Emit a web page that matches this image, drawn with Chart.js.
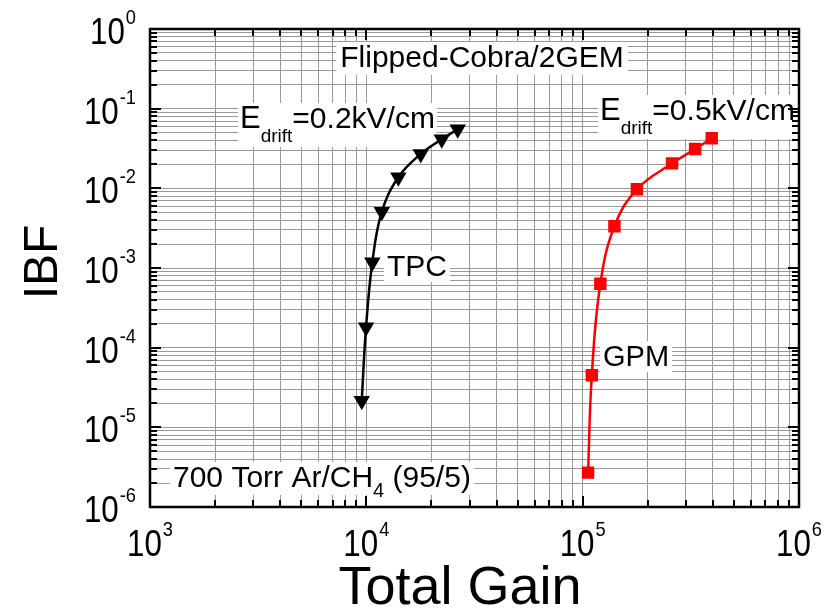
<!DOCTYPE html>
<html>
<head>
<meta charset="utf-8">
<script src="https://cdn.jsdelivr.net/npm/chart.js@4"></script>
<style>
  html, body { margin: 0; padding: 0; background: #ffffff; }
</style>
</head>
<body>
<canvas id="c" width="833" height="611"></canvas>
<script>
// Ion back-flow vs. total gain, Flipped-Cobra/2GEM
const tpcGain = [9520, 9970, 10660, 11790, 14060, 17840, 22320, 26460];
const tpcIBF  = [2.16e-5, 1.80e-4, 1.18e-3, 5.09e-3, 1.38e-2, 2.70e-2, 4.13e-2, 5.51e-2];
const gpmGain = [105900, 110200, 120700, 140200, 178000, 259000, 331000, 395000];
const gpmIBF  = [2.70e-6, 4.50e-5, 6.35e-4, 3.34e-3, 9.72e-3, 2.06e-2, 3.12e-2, 4.25e-2];

// decade exponents used for axis labels
const xTickExps = [3, 4, 5, 6];
const yTickExps = [0, -1, -2, -3, -4, -5, -6];

const FONT = '"Liberation Sans", Arial, sans-serif';

function points(xs, ys) { return xs.map((x, i) => ({ x: x, y: ys[i] })); }

// 1..9 x 10^n grid positions across the decades
function logTicks(exps) {
  const lo = Math.min(...exps), hi = Math.max(...exps);
  const out = [];
  for (let e = lo; e <= hi; e++) {
    const m = e === hi ? 1 : 9;
    for (let s = 1; s <= m; s++) out.push({ value: s * Math.pow(10, e), major: s === 1 });
  }
  return out;
}

// "10" with a raised exponent, drawn slightly condensed
function drawPow(ctx, exp, x, y, align) {
  const sx = 0.87;
  const big = '36px ' + FONT, small = '21px ' + FONT;
  ctx.font = big; const w1 = ctx.measureText('10').width * sx;
  ctx.font = small; const w2 = ctx.measureText(String(exp)).width * sx;
  const total = w1 + w2 + 1;
  const left = align === 'center' ? x - total / 2 : x - total;
  ctx.save();
  ctx.fillStyle = '#000';
  ctx.textAlign = 'left';
  ctx.textBaseline = 'alphabetic';
  ctx.translate(left, y);
  ctx.scale(sx, 1);
  ctx.font = big; ctx.fillText('10', 0, 0);
  ctx.font = small; ctx.fillText(String(exp), (w1 + 1) / sx, -20);
  ctx.restore();
}

// Draw a run of text pieces; each piece: [text, size, dy]
function drawRich(ctx, pieces, x, baseline, box) {
  let w = 0;
  const widths = pieces.map(p => { ctx.font = p[1] + 'px ' + FONT; const m = ctx.measureText(p[0]).width; w += m; return m; });
  if (box) {
    ctx.fillStyle = '#ffffff';
    ctx.fillRect(x - box[0], baseline - box[1], w + 2 * box[0], box[1] + box[2]);
  }
  ctx.fillStyle = '#000';
  ctx.textAlign = 'left';
  ctx.textBaseline = 'alphabetic';
  let cx = x;
  pieces.forEach((p, i) => {
    ctx.font = p[1] + 'px ' + FONT;
    ctx.fillText(p[0], cx, baseline + p[2]);
    cx += widths[i];
  });
  return w;
}

const labelsPlugin = {
  id: 'labels',
  beforeDatasetsDraw(chart) {
    const ctx = chart.ctx;
    ctx.save();
    ctx.font = '30px ' + FONT;
    const t = 'Flipped-Cobra/2GEM';
    const tw = ctx.measureText(t).width;
    drawRich(ctx, [[t, 30, 0]], 482 - tw / 2, 67, [4, 25, 8]);
    drawRich(ctx, [['E', 31, 0], ['drift', 19, 14], ['=0.2kV/cm', 30, 0]], 240, 128, [2, 25, 19]);
    drawRich(ctx, [['E', 31, 0], ['drift', 19, 14], ['=0.5kV/cm', 30, 0]], 600, 120, [2, 25, 19]);
    drawRich(ctx, [['TPC', 30, 0]], 387, 276, [3, 25, 6]);
    drawRich(ctx, [['GPM', 29, 0]], 603, 366, [3, 25, 6]);
    drawRich(ctx, [['700 Torr Ar/CH', 30, 0], ['4', 20, 10], [' (95/5)', 30, 0]], 173, 487, [3, 25, 8]);
    ctx.restore();
  },
  afterDraw(chart) {
    const ctx = chart.ctx;
    const a = chart.chartArea;
    const xs = chart.scales.x, ys = chart.scales.y;
    ctx.save();
    // inward tick marks on all four sides
    ctx.strokeStyle = '#000';
    ctx.lineWidth = 2;
    ctx.beginPath();
    xs.ticks.forEach(tk => {
      const px = Math.round(xs.getPixelForValue(tk.value));
      const len = tk.major ? 11 : 7;
      ctx.moveTo(px, a.bottom); ctx.lineTo(px, a.bottom - len);
      ctx.moveTo(px, a.top); ctx.lineTo(px, a.top + len);
    });
    ys.ticks.forEach(tk => {
      const py = Math.round(ys.getPixelForValue(tk.value));
      const len = tk.major ? 11 : 7;
      ctx.moveTo(a.left, py); ctx.lineTo(a.left + len, py);
      ctx.moveTo(a.right, py); ctx.lineTo(a.right - len, py);
    });
    ctx.stroke();
    // frame
    ctx.lineWidth = 2.5;
    ctx.strokeRect(a.left, a.top, a.right - a.left, a.bottom - a.top);
    // decade labels
    xTickExps.forEach(e => drawPow(ctx, e, xs.getPixelForValue(Math.pow(10, e)), 556, 'center'));
    yTickExps.forEach(e => drawPow(ctx, e, 136, ys.getPixelForValue(Math.pow(10, e)) + 15, 'right'));
    // axis titles
    ctx.fillStyle = '#000';
    ctx.font = '54px ' + FONT;
    ctx.textAlign = 'center';
    ctx.textBaseline = 'alphabetic';
    ctx.fillText('Total Gain', 460, 604);
    ctx.save();
    ctx.translate(57, 262);
    ctx.rotate(-Math.PI / 2);
    ctx.font = '48px ' + FONT;
    ctx.fillText('IBF', 0, 0);
    ctx.restore();
    ctx.restore();
  }
};

const gridOpts = { color: '#999999', lineWidth: 1, drawTicks: false };

new Chart(document.getElementById('c'), {
  type: 'line',
  data: {
    datasets: [
      {
        label: 'TPC',
        data: points(tpcGain, tpcIBF),
        borderColor: '#000000',
        backgroundColor: '#000000',
        borderWidth: 2.5,
        pointStyle: 'triangle',
        rotation: 180,
        pointRadius: 7,
        pointHoverRadius: 7,
        tension: 0.4
      },
      {
        label: 'GPM',
        data: points(gpmGain, gpmIBF),
        borderColor: '#ff0000',
        backgroundColor: '#ff0000',
        borderWidth: 2.5,
        pointStyle: 'rect',
        pointRadius: 7,
        pointHoverRadius: 7,
        tension: 0.4
      }
    ]
  },
  options: {
    responsive: false,
    animation: false,
    devicePixelRatio: 1,
    layout: { padding: { left: 150, right: 34, top: 29, bottom: 104 } },
    plugins: { legend: { display: false }, tooltip: { enabled: false } },
    scales: {
      x: {
        type: 'logarithmic',
        min: Math.pow(10, Math.min(...xTickExps)),
        max: Math.pow(10, Math.max(...xTickExps)),
        afterBuildTicks: s => { s.ticks = logTicks(xTickExps); },
        afterFit: s => { s.height = 0; },
        ticks: { display: false, autoSkip: false },
        grid: gridOpts,
        border: { display: false }
      },
      y: {
        type: 'logarithmic',
        min: Math.pow(10, Math.min(...yTickExps)),
        max: Math.pow(10, Math.max(...yTickExps)),
        afterBuildTicks: s => { s.ticks = logTicks(yTickExps); },
        afterFit: s => { s.width = 0; },
        ticks: { display: false, autoSkip: false },
        grid: gridOpts,
        border: { display: false }
      }
    }
  },
  plugins: [labelsPlugin]
});
</script>
</body>
</html>
